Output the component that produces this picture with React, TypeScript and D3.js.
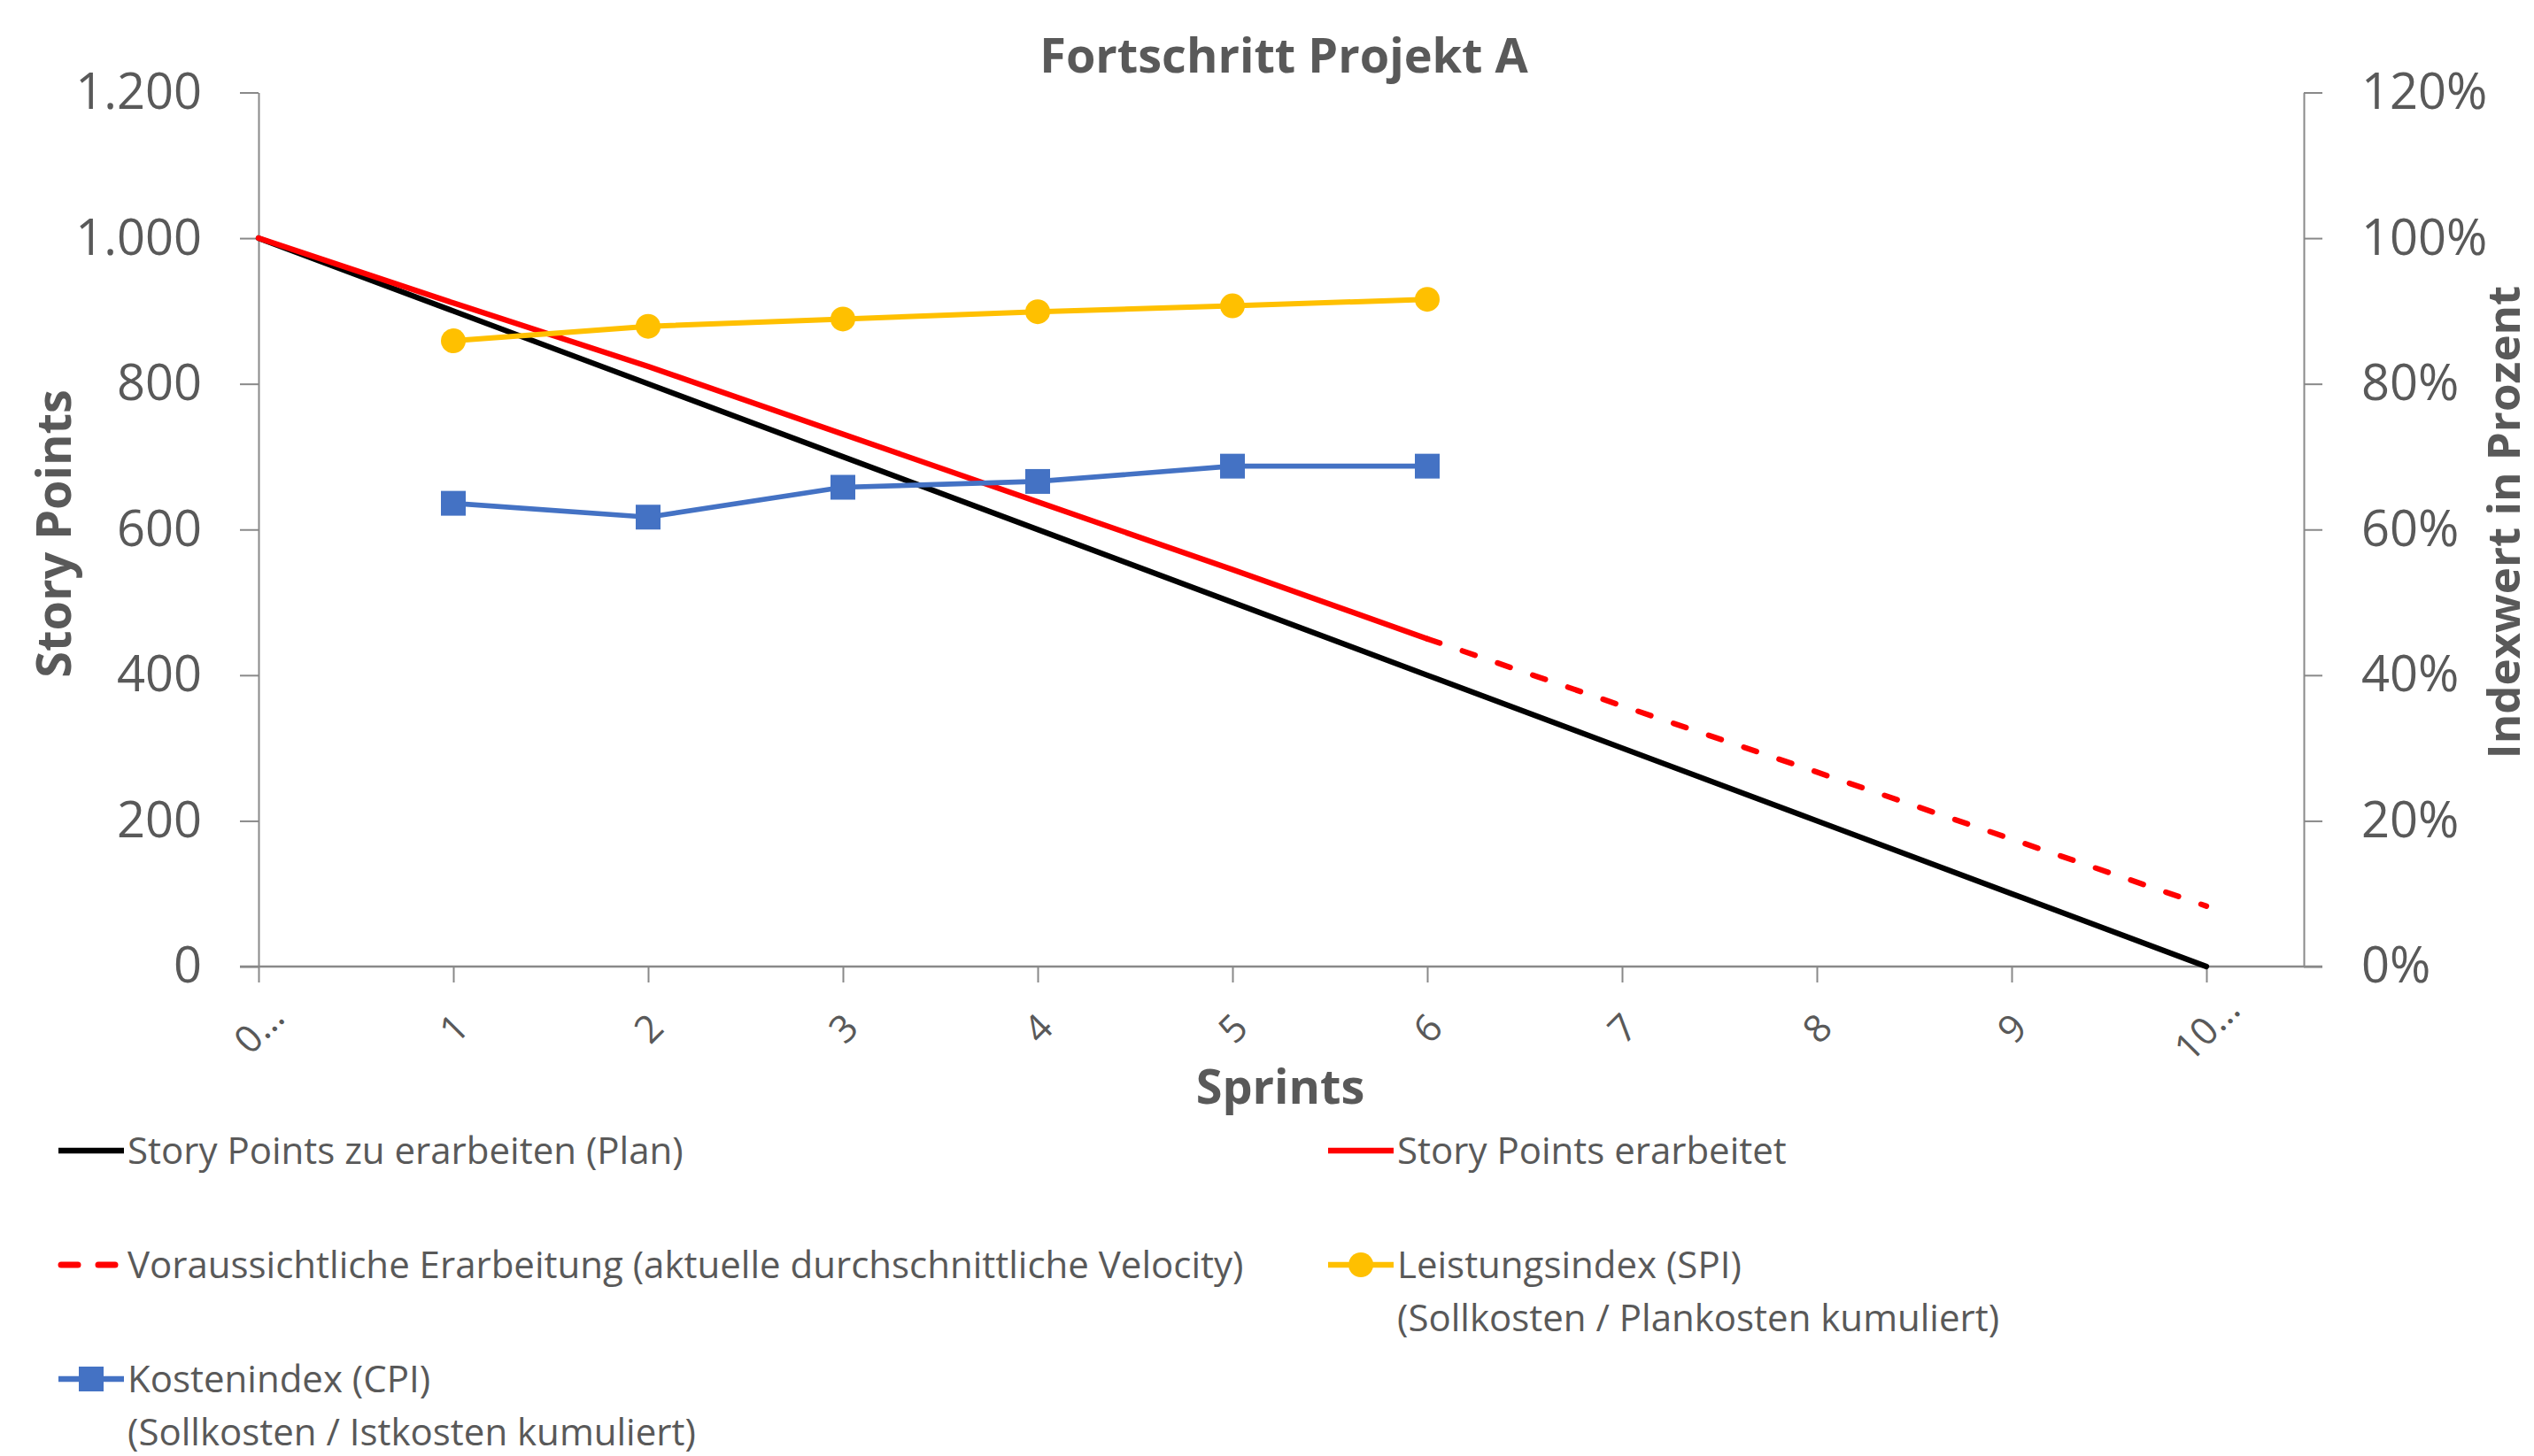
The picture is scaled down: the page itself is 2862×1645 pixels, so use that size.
import React, { useRef, useEffect } from 'react';
import * as d3 from 'd3';

// Sprints 0..10 on the category axis
const sprints = [0, 1, 2, 3, 4, 5, 6, 7, 8, 9, 10];
const sprintLabels = ["0…", "1", "2", "3", "4", "5", "6", "7", "8", "9", "10…"];

// Story points (left axis)
const planPoints = [1000, 900, 800, 700, 600, 500, 400, 300, 200, 100, 0];
const doneSprints = [0, 1, 2, 3, 4, 5, 6];
const donePoints = [1000, 911, 824, 731, 638, 545, 450];
const forecastSprints = [6, 7, 8, 9, 10];
const forecastPoints = [450, 358, 267, 175, 83];

// Index values (right axis)
const indexSprints = [1, 2, 3, 4, 5, 6];
const spiValues = [0.859, 0.879, 0.889, 0.899, 0.907, 0.916];
const cpiValues = [0.636, 0.617, 0.658, 0.666, 0.687, 0.687];

const leftTicks = [0, 200, 400, 600, 800, 1000, 1200];
const rightTicks = [0, 0.2, 0.4, 0.6, 0.8, 1.0, 1.2];

const textColor = "#595959";
const axisColor = "#898989";
const font = "'Open Sans', sans-serif";

function Chart() {
    const ref = useRef(null);
    useEffect(() => {
        var svg = d3.select(ref.current);
        svg.selectAll("*").remove();

        var x = d3.scaleLinear().domain([0, 10.5]).range([292, 2602]),
            yL = d3.scaleLinear().domain([0, 1200]).range([1092, 104.5]),
            yR = d3.scaleLinear().domain([0, 1.2]).range([1092, 104.5]);

        // title
        svg.append("text")
            .attr("x", 1450)
            .attr("y", 82)
            .attr("text-anchor", "middle")
            .attr("font-family", font)
            .attr("font-weight", "bold")
            .attr("font-size", "54px")
            .attr("fill", textColor)
            .text("Fortschritt Projekt A");

        // left axis
        var gl = svg.append("g")
            .attr("transform", "translate(292,0)")
            .call(d3.axisLeft(yL).tickValues(leftTicks).tickSize(21).tickSizeOuter(0).tickPadding(43)
                .tickFormat(d => d3.format(",")(d).replace(",", ".")));
        gl.selectAll("text").attr("font-family", font).attr("font-size", "56px").attr("fill", textColor);

        // right axis
        var gr = svg.append("g")
            .attr("transform", "translate(2602,0)")
            .call(d3.axisRight(yR).tickValues(rightTicks).tickSize(21).tickSizeOuter(0).tickPadding(44)
                .tickFormat(d3.format(".0%")));
        gr.selectAll("text").attr("font-family", font).attr("font-size", "56px").attr("fill", textColor);

        // bottom axis
        var gb = svg.append("g")
            .attr("transform", "translate(0,1092)")
            .call(d3.axisBottom(x).tickValues(sprints).tickSize(18).tickSizeOuter(0)
                .tickFormat(d => sprintLabels[d]));
        gb.select(".domain").remove();
        gb.selectAll("text")
            .attr("y", 0)
            .attr("dy", "0.35em")
            .attr("text-anchor", "middle")
            .attr("transform", "translate(0,70) rotate(-45)")
            .attr("font-family", font)
            .attr("font-size", "43px")
            .attr("fill", textColor);

        [gl, gr, gb].forEach(g => {
            g.selectAll("line").attr("stroke", axisColor).attr("stroke-width", 2);
            g.selectAll(".domain").attr("stroke", axisColor).attr("stroke-width", 2);
        });
        gb.append("line")
            .attr("x1", 271).attr("x2", 2623)
            .attr("stroke", axisColor).attr("stroke-width", 2.5);

        // axis titles
        svg.append("text")
            .attr("x", 1446).attr("y", 1247)
            .attr("text-anchor", "middle")
            .attr("font-family", font).attr("font-weight", "bold").attr("font-size", "54px")
            .attr("fill", textColor)
            .text("Sprints");
        svg.append("text")
            .attr("transform", "translate(80,603) rotate(-90)")
            .attr("text-anchor", "middle")
            .attr("font-family", font).attr("font-weight", "bold").attr("font-size", "54px")
            .attr("fill", textColor)
            .text("Story Points");
        svg.append("text")
            .attr("transform", "translate(2846,590) rotate(-90)")
            .attr("text-anchor", "middle")
            .attr("font-family", font).attr("font-weight", "bold").attr("font-size", "51px")
            .attr("fill", textColor)
            .text("Indexwert in Prozent");

        var lineL = d3.line().x(d => x(d[0])).y(d => yL(d[1]));
        var lineR = d3.line().x(d => x(d[0])).y(d => yR(d[1]));

        svg.append("path")
            .datum(sprints.map((s, i) => [s, planPoints[i]]))
            .attr("d", lineL)
            .attr("fill", "none").attr("stroke", "#000000").attr("stroke-width", 6.3)
            .attr("stroke-linecap", "round").attr("stroke-linejoin", "round");

        svg.append("path")
            .datum(doneSprints.map((s, i) => [s, donePoints[i]]))
            .attr("d", lineL)
            .attr("fill", "none").attr("stroke", "#FF0000").attr("stroke-width", 6.3)
            .attr("stroke-linecap", "round").attr("stroke-linejoin", "round");

        svg.append("path")
            .datum(forecastSprints.map((s, i) => [s, forecastPoints[i]]))
            .attr("d", lineL)
            .attr("fill", "none").attr("stroke", "#FF0000").attr("stroke-width", 6.3)
            .attr("stroke-dasharray", "15 27")
            .attr("stroke-linecap", "round");

        var spi = indexSprints.map((s, i) => [s, spiValues[i]]);
        svg.append("path")
            .datum(spi)
            .attr("d", lineR)
            .attr("fill", "none").attr("stroke", "#FFC000").attr("stroke-width", 6)
            .attr("stroke-linejoin", "round");
        svg.selectAll(".spi")
            .data(spi)
            .enter().append("circle")
            .attr("class", "spi")
            .attr("cx", d => x(d[0]))
            .attr("cy", d => yR(d[1]))
            .attr("r", 14)
            .attr("fill", "#FFC000");

        var cpi = indexSprints.map((s, i) => [s, cpiValues[i]]);
        svg.append("path")
            .datum(cpi)
            .attr("d", lineR)
            .attr("fill", "none").attr("stroke", "#4472C4").attr("stroke-width", 5.7)
            .attr("stroke-linejoin", "round");
        svg.selectAll(".cpi")
            .data(cpi)
            .enter().append("rect")
            .attr("class", "cpi")
            .attr("x", d => x(d[0]) - 14)
            .attr("y", d => yR(d[1]) - 14)
            .attr("width", 28)
            .attr("height", 28)
            .attr("fill", "#4472C4");

        // legend
        var legend = [
            { x: 66, y: 1300, kind: "solid", color: "#000000", lines: ["Story Points zu erarbeiten (Plan)"] },
            { x: 1500, y: 1300, kind: "solid", color: "#FF0000", lines: ["Story Points erarbeitet"] },
            { x: 66, y: 1429, kind: "dash", color: "#FF0000", lines: ["Voraussichtliche Erarbeitung (aktuelle durchschnittliche Velocity)"] },
            { x: 1500, y: 1429, kind: "circle", color: "#FFC000", lines: ["Leistungsindex (SPI)", "(Sollkosten / Plankosten kumuliert)"] },
            { x: 66, y: 1558, kind: "square", color: "#4472C4", lines: ["Kostenindex (CPI)", "(Sollkosten / Istkosten kumuliert)"] },
        ];
        legend.forEach(l => {
            var g = svg.append("g").attr("transform", "translate(" + l.x + "," + l.y + ")");
            if (l.kind === "dash") {
                g.append("line")
                    .attr("x1", 3).attr("x2", 70)
                    .attr("stroke", l.color).attr("stroke-width", 7)
                    .attr("stroke-dasharray", "19 23").attr("stroke-linecap", "round");
            } else {
                g.append("line")
                    .attr("x1", 0).attr("x2", 74)
                    .attr("stroke", l.color).attr("stroke-width", 6.3);
            }
            if (l.kind === "circle") {
                g.append("circle").attr("cx", 37).attr("r", 14).attr("fill", l.color);
            }
            if (l.kind === "square") {
                g.append("rect").attr("x", 23).attr("y", -14).attr("width", 28).attr("height", 28).attr("fill", l.color);
            }
            l.lines.forEach((t, i) => {
                g.append("text")
                    .attr("x", 78)
                    .attr("y", i * 60)
                    .attr("dy", "0.35em")
                    .attr("font-family", font)
                    .attr("font-size", "42px")
                    .attr("fill", textColor)
                    .text(t);
            });
        });
    }, []);
    return (
        <svg ref={ref} width="2862" height="1645"
            style={{ position: "absolute", left: 0, top: 0, background: "#ffffff" }}></svg>
    );
}

export default function App() {
    return <Chart />;
}
